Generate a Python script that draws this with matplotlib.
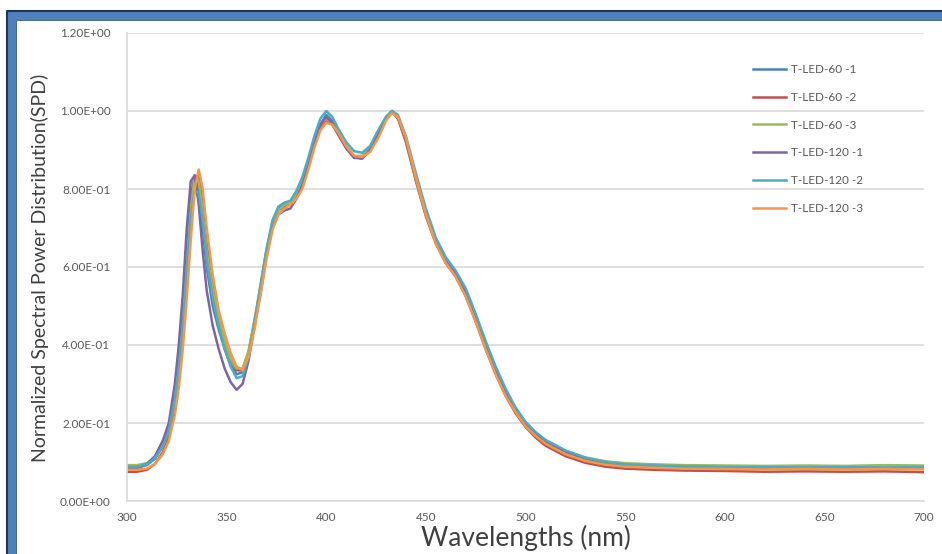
import matplotlib
matplotlib.use("Agg")
import matplotlib.pyplot as plt
from matplotlib.ticker import FuncFormatter, MultipleLocator
from matplotlib.patches import Rectangle
from matplotlib.lines import Line2D

plt.rcParams['font.family'] = ['Lato', 'DejaVu Sans']

# wavelength grid shared by all six measurements (nm)
wavelength = [300, 305, 310, 314, 318, 321, 324, 326, 328, 330, 332, 334, 336, 338, 340, 343, 346, 349,
              352, 355, 358, 361, 364, 367, 370, 373, 376, 379, 382, 385, 388, 391, 394, 397, 400, 403,
              406, 410, 414, 418, 422, 426, 430, 433, 436, 440, 445, 450, 455, 460, 465, 470, 475, 480,
              485, 490, 495, 500, 505, 510, 520, 530, 540, 550, 565, 580, 600, 620, 640, 660, 680, 700]

led_60_1 = [0.085, 0.085, 0.092, 0.108, 0.14, 0.18, 0.27, 0.36, 0.48, 0.64, 0.78, 0.835, 0.80, 0.70, 0.60, 0.50, 0.44, 0.39,
            0.35, 0.325, 0.33, 0.38, 0.46, 0.53, 0.63, 0.715, 0.75, 0.76, 0.765, 0.78, 0.81, 0.86, 0.92, 0.965, 0.99, 0.975,
            0.945, 0.91, 0.885, 0.878, 0.90, 0.94, 0.98, 1.0, 0.985, 0.925, 0.825, 0.735, 0.665, 0.615, 0.58, 0.53, 0.465, 0.395,
            0.33, 0.275, 0.23, 0.195, 0.17, 0.15, 0.125, 0.108, 0.098, 0.093, 0.09, 0.088, 0.086, 0.085, 0.085, 0.086, 0.085, 0.085]

led_60_2 = [0.075, 0.075, 0.08, 0.095, 0.125, 0.165, 0.24, 0.32, 0.43, 0.58, 0.73, 0.82, 0.84, 0.77, 0.66, 0.55, 0.47, 0.41,
            0.365, 0.335, 0.335, 0.38, 0.46, 0.55, 0.64, 0.71, 0.745, 0.755, 0.765, 0.785, 0.815, 0.865, 0.92, 0.96, 0.975, 0.965,
            0.94, 0.905, 0.88, 0.882, 0.90, 0.94, 0.98, 0.998, 0.98, 0.92, 0.82, 0.73, 0.66, 0.61, 0.575, 0.525, 0.46, 0.39,
            0.325, 0.27, 0.225, 0.19, 0.163, 0.142, 0.115, 0.098, 0.088, 0.083, 0.08, 0.078, 0.077, 0.075, 0.076, 0.075, 0.076, 0.074]

led_60_3 = [0.092, 0.092, 0.097, 0.112, 0.14, 0.18, 0.26, 0.35, 0.46, 0.61, 0.75, 0.83, 0.82, 0.74, 0.64, 0.54, 0.47, 0.41,
            0.365, 0.34, 0.34, 0.385, 0.465, 0.555, 0.645, 0.71, 0.745, 0.76, 0.765, 0.785, 0.82, 0.87, 0.925, 0.965, 0.98, 0.97,
            0.945, 0.91, 0.885, 0.885, 0.905, 0.945, 0.985, 1.0, 0.985, 0.925, 0.825, 0.735, 0.665, 0.615, 0.58, 0.53, 0.465, 0.395,
            0.33, 0.277, 0.233, 0.20, 0.174, 0.154, 0.128, 0.112, 0.102, 0.097, 0.094, 0.092, 0.091, 0.09, 0.091, 0.09, 0.092, 0.091]

led_120_1 = [0.085, 0.085, 0.095, 0.115, 0.155, 0.20, 0.30, 0.40, 0.53, 0.70, 0.82, 0.835, 0.76, 0.64, 0.54, 0.45, 0.39, 0.34,
             0.305, 0.285, 0.30, 0.36, 0.45, 0.54, 0.63, 0.70, 0.735, 0.745, 0.75, 0.775, 0.81, 0.86, 0.92, 0.965, 0.985, 0.97,
             0.94, 0.905, 0.88, 0.878, 0.90, 0.94, 0.98, 0.998, 0.985, 0.925, 0.83, 0.74, 0.67, 0.62, 0.585, 0.535, 0.47, 0.40,
             0.335, 0.28, 0.235, 0.198, 0.172, 0.152, 0.127, 0.108, 0.097, 0.091, 0.088, 0.086, 0.085, 0.084, 0.085, 0.085, 0.084, 0.085]

led_120_2 = [0.088, 0.088, 0.094, 0.11, 0.14, 0.18, 0.26, 0.34, 0.45, 0.60, 0.73, 0.795, 0.79, 0.72, 0.62, 0.52, 0.45, 0.39,
             0.345, 0.315, 0.32, 0.37, 0.455, 0.55, 0.645, 0.72, 0.755, 0.765, 0.77, 0.795, 0.83, 0.88, 0.935, 0.98, 1.0, 0.985,
             0.955, 0.92, 0.897, 0.893, 0.91, 0.95, 0.985, 1.0, 0.99, 0.935, 0.84, 0.75, 0.675, 0.625, 0.59, 0.545, 0.48, 0.41,
             0.345, 0.288, 0.24, 0.203, 0.177, 0.157, 0.13, 0.111, 0.10, 0.094, 0.091, 0.089, 0.087, 0.087, 0.086, 0.087, 0.086, 0.087]

led_120_3 = [0.08, 0.08, 0.083, 0.095, 0.12, 0.155, 0.22, 0.29, 0.39, 0.52, 0.67, 0.80, 0.85, 0.80, 0.70, 0.58, 0.49, 0.43,
             0.38, 0.345, 0.335, 0.37, 0.44, 0.53, 0.62, 0.695, 0.735, 0.75, 0.76, 0.775, 0.80, 0.85, 0.905, 0.95, 0.97, 0.965,
             0.945, 0.91, 0.885, 0.882, 0.895, 0.93, 0.975, 0.995, 0.985, 0.93, 0.83, 0.735, 0.66, 0.61, 0.575, 0.525, 0.46, 0.39,
             0.325, 0.27, 0.228, 0.192, 0.167, 0.147, 0.12, 0.103, 0.093, 0.088, 0.085, 0.083, 0.082, 0.081, 0.082, 0.081, 0.082, 0.081]

series_names = ["T-LED-60 -1", "T-LED-60 -2", "T-LED-60 -3", "T-LED-120 -1", "T-LED-120 -2", "T-LED-120 -3"]
series_values = [led_60_1, led_60_2, led_60_3, led_120_1, led_120_2, led_120_3]
series_colors = ["#4F81BD", "#C0504D", "#9BBB59", "#8064A2", "#4BACC6", "#F79646"]

W, H = 942, 554
fig = plt.figure(figsize=(W / 100, H / 100), dpi=100)
ax = fig.add_axes([127 / W, 1 - 501 / H, (924 - 127) / W, (501 - 33) / H])

for name, vals, col in zip(series_names, series_values, series_colors):
    ax.plot(wavelength, vals, color=col, linewidth=1.8, label=name)

ax.set_xlim(300, 700)
ax.set_ylim(0, 1.2)
ax.xaxis.set_major_locator(MultipleLocator(50))
ax.yaxis.set_major_locator(MultipleLocator(0.2))
ax.yaxis.set_major_formatter(FuncFormatter(lambda v, p: f"{v:.2E}"))
ax.tick_params(length=0, labelsize=8.5, labelcolor="#595959")
ax.tick_params(axis="x", pad=8)
ax.tick_params(axis="y", pad=12)
ax.grid(axis="y", color="#D9D9D9", linewidth=1.2)
ax.set_axisbelow(True)
for s in ["top", "right"]:
    ax.spines[s].set_visible(False)
for s in ["left", "bottom"]:
    ax.spines[s].set_color("#D9D9D9")
    ax.spines[s].set_linewidth(1.2)

ax.set_xlabel("Wavelengths (nm)", fontsize=19, color="#404040", labelpad=1)
fig.text(40 / W, 1 - 268 / H, "Normalized Spectral Power Distribution(SPD)", rotation=90,
         fontsize=14, color="#404040", ha="center", va="center")

ax.legend(loc="upper left", bbox_to_anchor=(753 / W, 1 - 64 / H), bbox_transform=fig.transFigure,
          frameon=False, fontsize=8.5, labelcolor="#595959", handlelength=2.8, handletextpad=0.4,
          labelspacing=1.42, borderpad=0, borderaxespad=0)

# blue frame on the top and left edges
fig.patches.append(Rectangle((8 / W, 0), 8 / W, 1 - 12 / H, transform=fig.transFigure,
                             facecolor="#4F81BD", edgecolor="none"))
fig.patches.append(Rectangle((8 / W, 1 - 20 / H), 1 - 8 / W, 8 / H, transform=fig.transFigure,
                             facecolor="#4F81BD", edgecolor="none"))
fig.lines.append(Line2D([7 / W, 7 / W, 1], [0, 1 - 11 / H, 1 - 11 / H], transform=fig.transFigure,
                        color="#1F3550", linewidth=1.5))
fig.lines.append(Line2D([16 / W, 16 / W, 1], [0, 1 - 20 / H, 1 - 20 / H], transform=fig.transFigure,
                        color="#2F4F7A", linewidth=0.6))

fig.savefig("out.png", dpi=100)
